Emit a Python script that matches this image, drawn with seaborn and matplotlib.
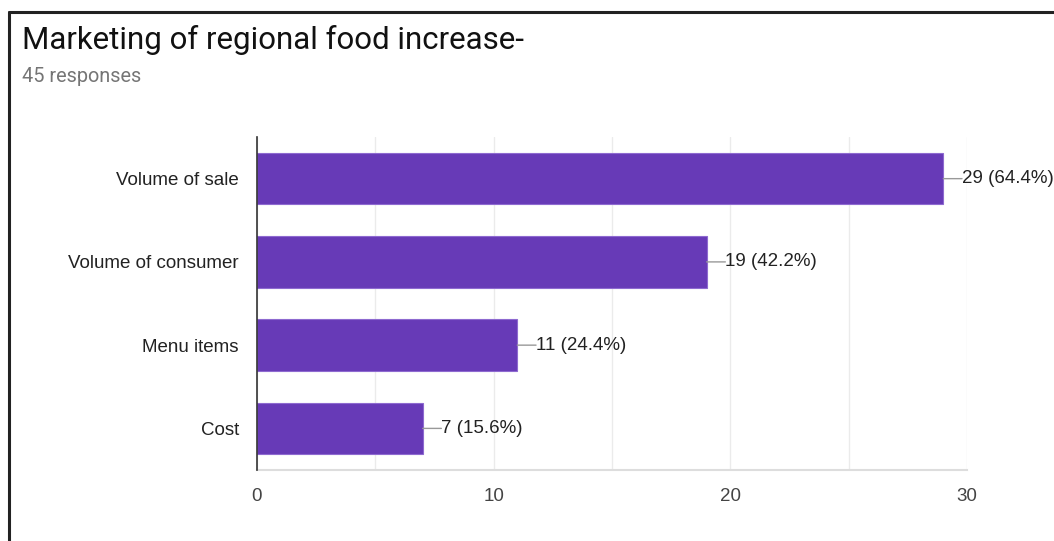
import matplotlib
matplotlib.use("Agg")
import matplotlib.pyplot as plt
import seaborn as sns
import pandas as pd
from matplotlib.lines import Line2D

# data
categories = ["Volume of sale", "Volume of consumer", "Menu items", "Cost"]
counts = [29, 19, 11, 7]
total = 45
x_ticks = [0, 10, 20, 30]

df = pd.DataFrame({"option": categories, "count": counts})

sns.set_theme(style="white")
plt.rcParams["font.family"] = ["Liberation Sans", "DejaVu Sans"]

fig = plt.figure(figsize=(10.54, 5.41), dpi=100)
ax = fig.add_axes([0.2438, 0.1312, 0.6736, 0.6155])

sns.barplot(data=df, x="count", y="option", color="#673ab7", saturation=1,
            width=0.62, edgecolor="#8e6ad0", linewidth=0.8, ax=ax, zorder=3)

ax.set_xlim(0, 30)
ax.set_ylim(3.5, -0.5)
ax.set_xticks(x_ticks)
ax.set_xticks(range(0, 31, 5), minor=True)
ax.grid(axis="x", which="both", color="#ebebeb", linewidth=1, zorder=0)
ax.set_xlabel("")
ax.set_ylabel("")
ax.tick_params(axis="x", which="both", length=0, pad=13, labelsize=13.5, labelcolor="#444444")
ax.tick_params(axis="y", length=0, pad=13, labelsize=13.5, labelcolor="#222222")

for s in ["top", "right"]:
    ax.spines[s].set_visible(False)
ax.spines["left"].set_color("#333333")
ax.spines["left"].set_linewidth(1.2)
ax.spines["left"].set_zorder(5)
ax.spines["bottom"].set_color("#dddddd")
ax.spines["bottom"].set_linewidth(1.5)

# value labels with short leader lines
for i, c in enumerate(counts):
    ax.annotate("", xy=(c, i), xytext=(13.5, 0), textcoords="offset points",
                arrowprops=dict(arrowstyle="-", color="#999999", lw=1,
                                shrinkA=0, shrinkB=0))
    ax.annotate(f"{c} ({c / total * 100:.1f}%)", xy=(c, i), xytext=(13.5, 0),
                textcoords="offset points", va="center", ha="left",
                fontsize=13.5, color="#222222", annotation_clip=False)

fig.text(22 / 1054, 1 - 40 / 541, "Marketing of regional food increase-",
         fontsize=22.5, color="#111111", va="center", ha="left", family="Roboto")
fig.text(22 / 1054, 1 - 77 / 541, f"{total} responses",
         fontsize=14.3, color="#757575", va="center", ha="left", family="Roboto")

# screenshot frame on left and top
fig.add_artist(Line2D([9 / 1054, 9 / 1054], [0, 1 - 12 / 541],
                      transform=fig.transFigure, color="#222222", lw=2.2))
fig.add_artist(Line2D([9 / 1054, 1], [1 - 12 / 541, 1 - 12 / 541],
                      transform=fig.transFigure, color="#222222", lw=2.2))

fig.savefig("out.png", dpi=100)
